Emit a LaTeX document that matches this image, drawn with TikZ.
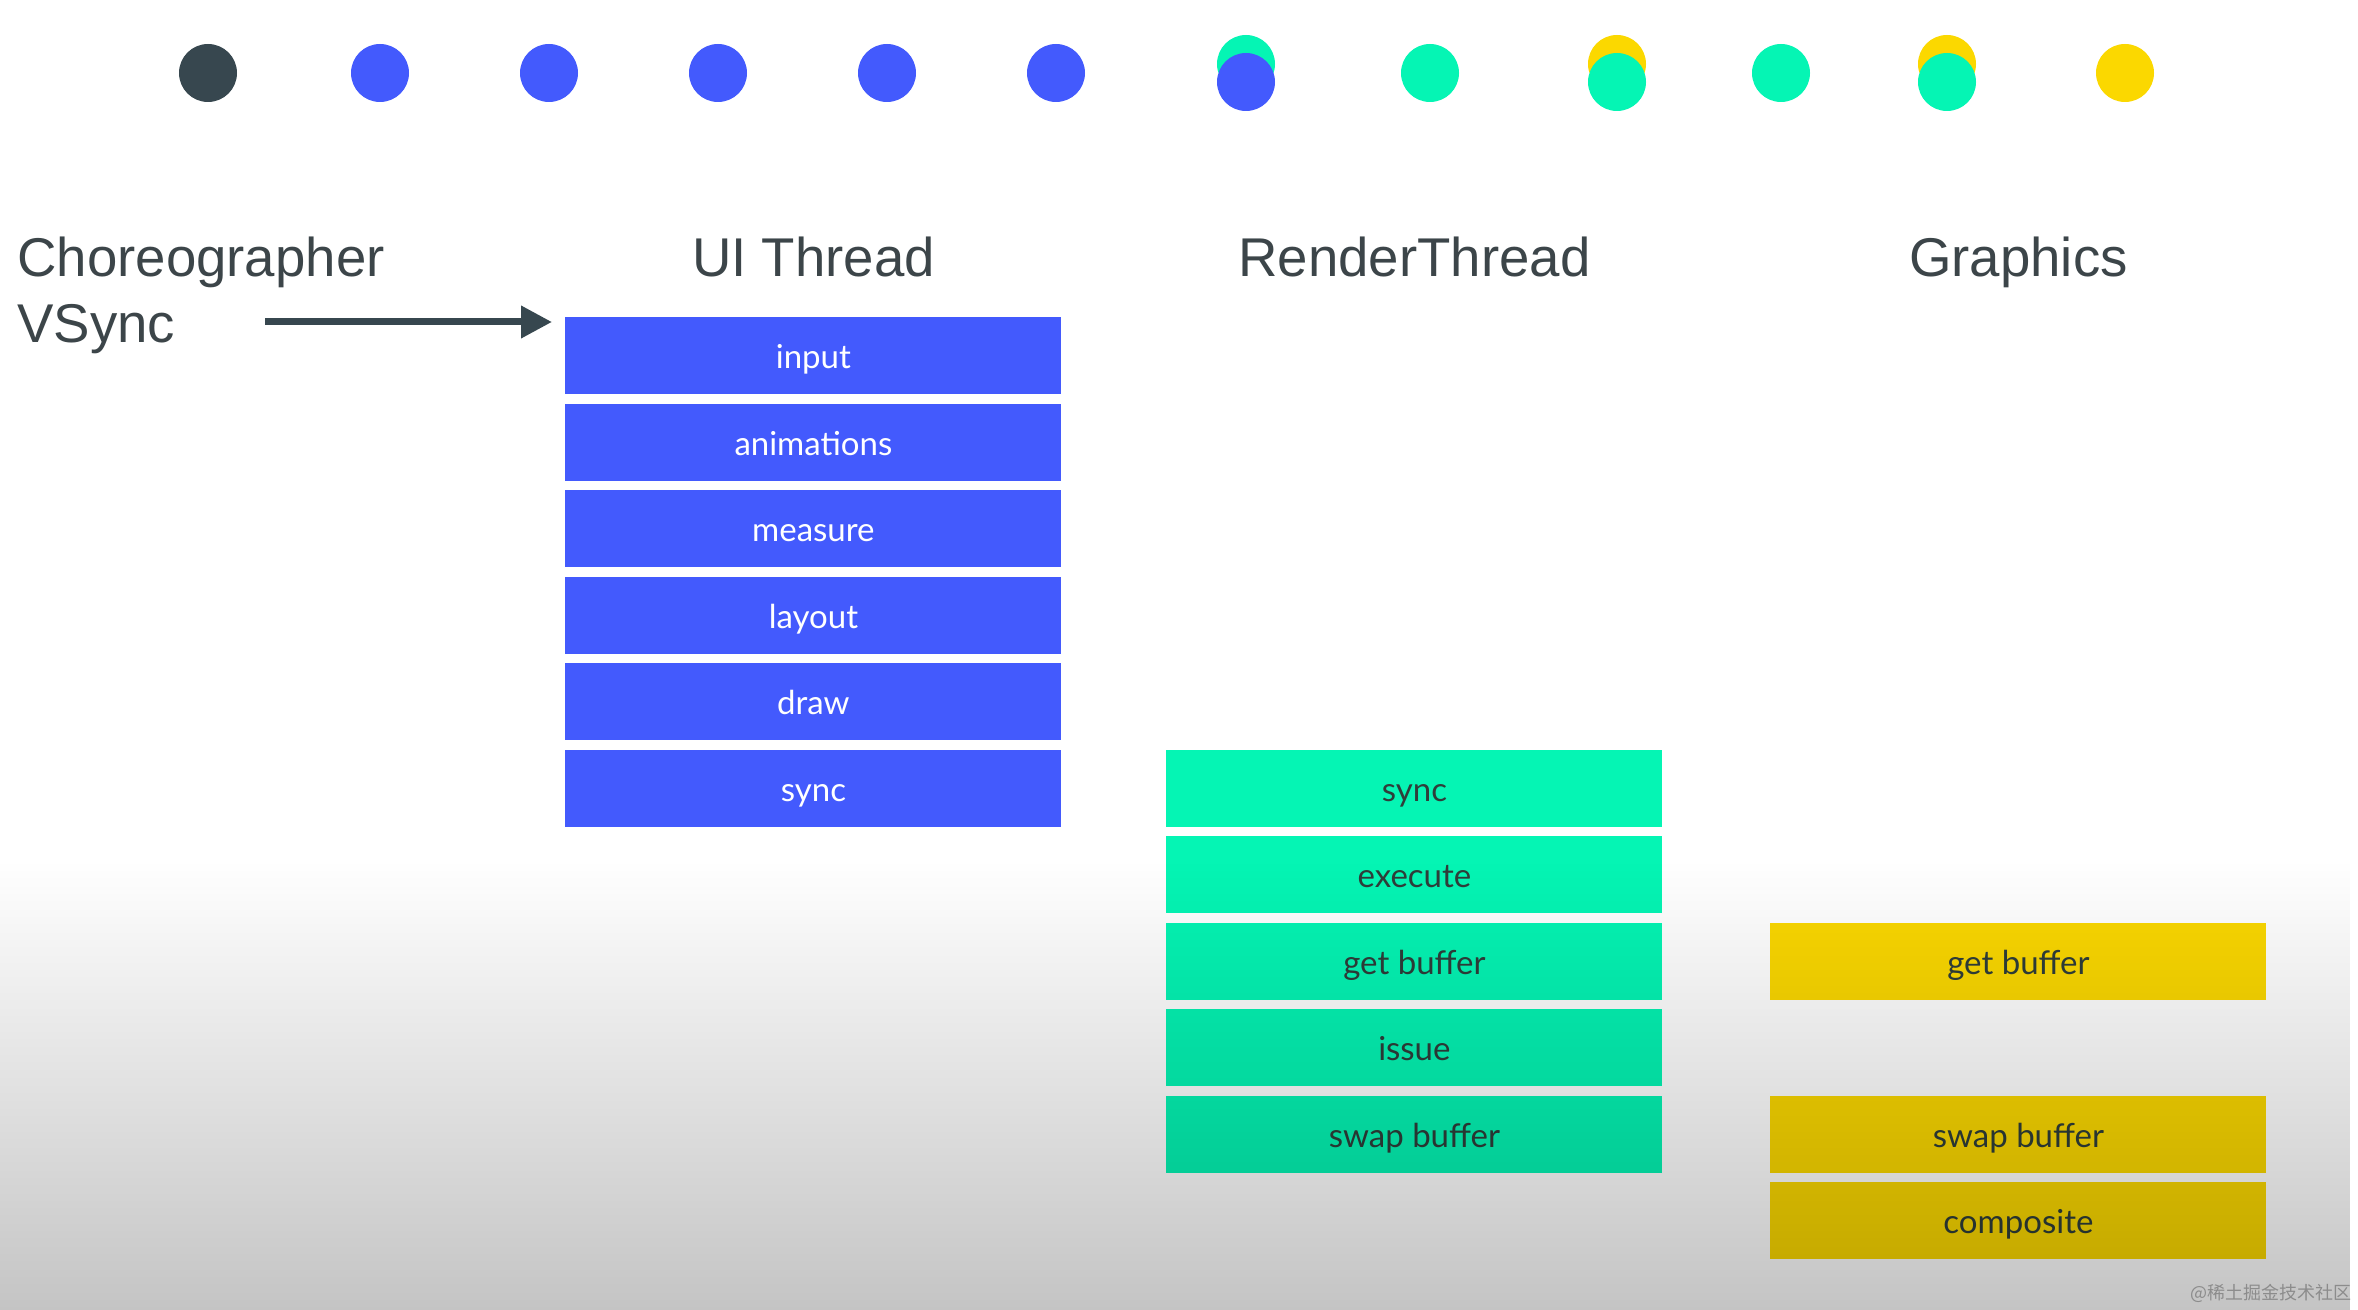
\documentclass[tikz,border=0pt]{standalone}
\usepackage{fontspec}
\setmainfont{Liberation Sans}
\newfontfamily\boxfont{Lato}
\newfontfamily\cjkfont{Noto Sans CJK SC}
\usetikzlibrary{arrows.meta,fadings,calc}
\definecolor{slate}{HTML}{37474F}
\definecolor{uiblue}{HTML}{435AFD}
\definecolor{rtgreen}{HTML}{05F5B4}
\definecolor{gyellow}{HTML}{FBD800}
\definecolor{titlegray}{HTML}{3C4549}
\definecolor{labeldark}{HTML}{2F3E3A}
\tikzfading[name=fade down, top color=transparent!100, bottom color=transparent!0]
\tikzset{
  every picture/.style = {
    x=0.5pt,
    y=-0.5pt
  },
  title/.style={
    font=\fontsize{27.3}{32}\selectfont,
    text=titlegray,
    inner sep=0pt
  },
  stage/.style={
    minimum width=248pt,
    minimum height=38.5pt,
    inner sep=0pt,
    text height=13.5pt,
    text depth=0.5pt,
    anchor=north west,
    font=\boxfont\fontsize{16.5}{20}\selectfont
  },
  ui/.style={stage, fill=uiblue, text=white},
  rt/.style={stage, fill=rtgreen, text=labeldark},
  gfx/.style={stage, fill=gyellow, text=labeldark},
  dot/.style={
    circle,
    inner sep=0pt,
    minimum size=29pt
  }
}
\begin{document}
\begin{tikzpicture}
  \fill[white] (0,0) rectangle (2358,1310);
  \useasboundingbox (0,0) rectangle (2358,1310);
  % frame dots
  \foreach \x/\c [count=\i] in {208/slate, 380/uiblue, 549/uiblue, 718/uiblue, 887/uiblue, 1056/uiblue, 1430/rtgreen, 1781/rtgreen, 2125/gyellow}
    \node[dot, fill=\c] (d\i) at (\x,73) {};
  \foreach \x/\b/\f [count=\i] in {1246/rtgreen/uiblue, 1617/gyellow/rtgreen, 1947/gyellow/rtgreen} {
    \node[dot, fill=\b] (back\i) at (\x,64) {};
    \node[dot, fill=\f] (front\i) at (\x,82) {};
  }
  % stages
  \foreach \t [count=\i from 0] in {input, animations, measure, layout, draw, sync}
    \node[ui] (ui\i) at (565,{317+86.5*\i}) {\t};
  \foreach \t [count=\i from 5] in {sync, execute, get buffer, issue, swap buffer}
    \node[rt] (rt\i) at (1166,{317+86.5*\i}) {\t};
  \foreach \r/\t in {7/get buffer, 9/swap buffer, 10/composite}
    \node[gfx] (gfx\r) at (1770,{317+86.5*\r}) {\t};
  % headings
  \node[title, anchor=base west] (chor) at (17,277) {Choreographer};
  \node[title, anchor=base west] (vsync) at (17,343) {VSync};
  \node[title, anchor=base] (uit) at (ui0.north |- 0,277) {UI Thread};
  \node[title, anchor=base] (rtt) at (rt5.north |- 0,277) {RenderThread};
  \node[title, anchor=base] (gfxt) at (gfx7.north |- 0,277) {Graphics};
  \coordinate (vs) at (265,322);
  \draw[slate, line width=3.5pt, -{Triangle[length=15.5pt,width=15.5pt]}] (vs) -- ([xshift=-6.5pt]vs -| ui0.west);
  % shade at the bottom
  \fill[black, opacity=0.23, path fading=fade down] (0,860) rectangle (2358,1310);
  \node[font=\cjkfont\fontsize{9}{10}\selectfont, text=black!45, anchor=east, inner sep=0pt] (mark) at (2352,1293) {@稀土掘金技术社区};
\end{tikzpicture}
\end{document}
